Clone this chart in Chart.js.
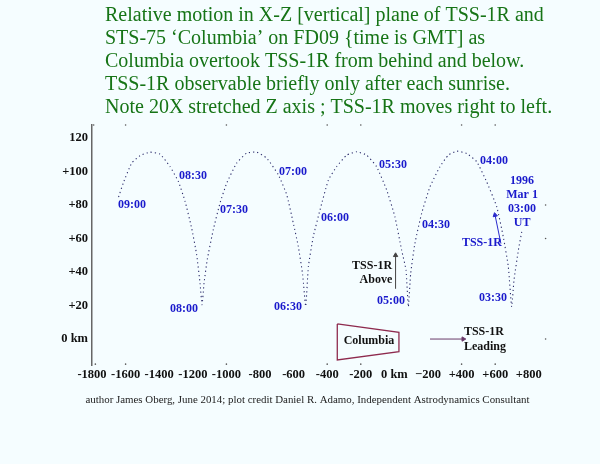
<!DOCTYPE html>
<html><head><meta charset="utf-8">
<style>html,body{margin:0;padding:0;background:#f5fdff}canvas{display:block}</style>
<script src="https://cdn.jsdelivr.net/npm/chart.js@4"></script></head>
<body><canvas id="c" width="600" height="464"></canvas>
<script>
const titleLines=["Relative motion in X-Z [vertical] plane of TSS-1R and","STS-75 \u2018Columbia\u2019 on FD09 {time is GMT] as","Columbia overtook TSS-1R from behind and below.","TSS-1R observable briefly only after each sunrise.","Note 20X stretched Z axis ; TSS-1R moves right to left."];
const footer="author James Oberg, June 2014; plot credit Daniel R. Adamo, Independent Astrodynamics Consultant";
const xTicks=[-1800,-1600,-1400,-1200,-1000,-800,-600,-400,-200,0,200,400,600,800];
const xLabels=["-1800","-1600","-1400","-1200","-1000","-800","-600","-400","-200","0 km","\u2212200","+400","+600","+800"];
const yTicks=[0,20,40,60,80,100,120];
const yLabels=["0 km","+20","+40","+60","+80","+100","120"];
const pathX=[758,738,712,698,678,648,609,549,490,430,371,321,271,212,162,122,97,83,69,43,3,-46,-106,-165,-225,-284,-344,-393,-443,-483,-512,-528,-546,-572,-602,-641,-691,-760,-820,-879,-939,-998,-1038,-1078,-1114,-1133,-1145,-1157,-1177,-1207,-1246,-1286,-1336,-1395,-1455,-1514,-1564,-1614,-1647];
const pathZ=[64,53.1,35.2,19.3,43.2,61.1,79,93.9,105.9,110.8,112.2,109.8,102.9,90.9,75,57.1,39.2,19.3,41.2,53.1,73,89,102.9,109.8,111.8,109.8,102.9,94.9,77,61.1,43.2,19.5,38.4,55.3,69.3,86.2,98.1,108,111.6,111,105,93.1,81.2,65.3,47.4,33.4,20.5,33.4,50.3,66.3,82.2,94.1,103,110.4,111.6,109.5,105,93.1,83.2];
const blueLabels=["09:00","08:30","08:00","07:30","07:00","06:30","06:00","05:30","05:00","04:30","04:00","03:30","1996","Mar 1","03:00","UT","TSS-1R"];
const blueLabelX=[-1562,-1199,-1252,-955,-604,-633,-354,-8,-20,248,593,587,760,760,760,760,521];
const blueLabelZ=[80,97.3,17.9,77,99.7,19.1,72.2,103.9,22.7,68,106.3,24.5,94.3,86,77.6,69.3,57.3];
const blackLabels=["TSS-1R","Above","Columbia","TSS-1R","Leading"];
const blackLabelX=[-133,-110,-151,533,539];
const blackLabelZ=[43.6,35.2,-1.2,4.2,-4.8];
const shuttleX=[-340,27,27,-340,-340];
const shuttleZ=[9,4,-7.6,-12.5,9];
const aboveArrowX=[7,7];const aboveArrowZ=[30,50];
const leadArrowX=[212,410];const leadArrowZ=[0,0];
const tssArrowX=[634,599];const tssArrowZ=[57,74];
const strayX=[-1790,-1600,-1000,-400,-200,400,600,900,900,900,-1780,-1600,-1000,-400,-200,400,600,-1955,-1955,-1996,-1996];
const strayZ=[127.8,127.8,127.8,127.8,127.8,127.8,127.8,80,60,0,-15,-15,-15,-15,-15,-15,-15,121,119,1,-1];
const iconX=[956];const iconZ=[-33.4];
const SERIF='"Liberation Serif"';
const zip=(a,b)=>a.map((v,i)=>({x:v,y:b[i]}));
const arrow=(xs,zs,color,rot)=>({data:zip(xs,zs),borderColor:color,backgroundColor:color,borderWidth:1,pointStyle:'triangle',pointRotation:[0,rot],pointRadius:[0,2.5],tension:0});
const textPlugin={id:'texts',afterDraw(ch){
 const g=ch.ctx,sx=ch.scales.x,sy=ch.scales.y;
 g.save();g.textBaseline='middle';
 g.fillStyle='#167416';g.font='20px '+SERIF;g.textAlign='left';
 titleLines.forEach((t,i)=>g.fillText(t,105,15.5+i*23));
 g.fillStyle='#222';g.font='10.9px '+SERIF;g.textAlign='center';
 g.fillText(footer,307.5,400);
 g.textAlign='center';g.font='bold 12px '+SERIF;
 g.fillStyle='#1a1acc';
 blueLabels.forEach((t,i)=>g.fillText(t,sx.getPixelForValue(blueLabelX[i]),sy.getPixelForValue(blueLabelZ[i])));
 g.fillStyle='#111';
 blackLabels.forEach((t,i)=>g.fillText(t,sx.getPixelForValue(blackLabelX[i]),sy.getPixelForValue(blackLabelZ[i])));
 g.restore();
}};
new Chart(document.getElementById('c'),{
 type:'line',
 data:{datasets:[
  {data:zip(pathX,pathZ),borderColor:'#2a2a6a',borderWidth:1.1,borderDash:[1.2,3],pointRadius:0,tension:0.15},
  {data:zip(shuttleX,shuttleZ),borderColor:'#8e2a4e',borderWidth:1.3,pointRadius:0,tension:0},
  arrow(aboveArrowX,aboveArrowZ,'#444',0),
  arrow(leadArrowX,leadArrowZ,'#6a3a6a',90),
  arrow(tssArrowX,tssArrowZ,'#2a2acc',-12),
  {data:zip(strayX,strayZ),showLine:false,pointRadius:0.8,pointBackgroundColor:'#555',pointBorderWidth:0,clip:false},
  {data:zip(iconX,iconZ),showLine:false,pointStyle:'rect',pointRadius:3,pointBackgroundColor:'#dfe6ee',pointBorderWidth:0,clip:false}
 ]},
 plugins:[textPlugin,{id:'bg',beforeDraw(ch){ch.ctx.fillStyle='#f5fdff';ch.ctx.fillRect(0,0,600,464);}}],
 options:{
  responsive:false,animation:false,
  layout:{padding:{left:0,top:125,right:54.4,bottom:0}},
  plugins:{legend:{display:false},tooltip:{enabled:false}},
  scales:{
   x:{type:'linear',min:-1800,max:900,
    afterBuildTicks:s=>{s.ticks=xTicks.map(v=>({value:v}));},
    afterFit:s=>{s.height=99;},
    grid:{display:false,drawTicks:false},border:{display:false},
    ticks:{autoSkip:false,maxRotation:0,padding:2,color:'#111',font:{family:SERIF,size:12.5,weight:'bold'},
     callback:v=>xLabels[xTicks.indexOf(v)]}},
   y:{type:'linear',min:-15.5,max:127.8,
    afterBuildTicks:s=>{s.ticks=yTicks.map(v=>({value:v}));},
    afterFit:s=>{s.width=92;},
    grid:{display:false,drawTicks:false},border:{display:true,color:'#666',width:1.5},
    ticks:{autoSkip:false,padding:4,color:'#111',font:{family:SERIF,size:12.5,weight:'bold'},
     callback:v=>yLabels[yTicks.indexOf(v)]}}
  }
 }
});
</script></body></html>
